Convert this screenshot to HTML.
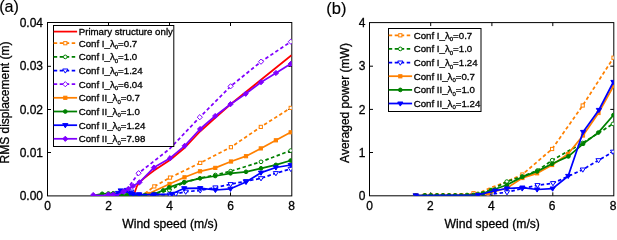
<!DOCTYPE html>
<html><head><meta charset="utf-8"><style>
html,body{margin:0;padding:0;background:#fff;}
svg{display:block;font-family:"Liberation Sans",sans-serif;}
svg{will-change:transform;}
text{stroke:#000;stroke-width:0.3px;}
</style></head><body>
<svg width="617" height="231" viewBox="0 0 617 231">
<defs><clipPath id="cl"><rect x="47.5" y="22.5" width="244.3" height="173.4"/></clipPath>
<clipPath id="cr"><rect x="369.5" y="22.6" width="244.29999999999995" height="173.20000000000002"/></clipPath></defs>
<rect x="47.5" y="22.5" width="244.3" height="173.4" fill="#fff" stroke="none"/>
<rect x="369.5" y="22.6" width="244.29999999999995" height="173.20000000000002" fill="#fff" stroke="none"/>
<rect x="47.5" y="22.5" width="244.3" height="173.4" fill="none" stroke="#000" stroke-width="1"/>
<line x1="108.5" y1="195.9" x2="108.5" y2="192.4" stroke="#000" stroke-width="1"/>
<line x1="108.5" y1="22.5" x2="108.5" y2="26.0" stroke="#000" stroke-width="1"/>
<line x1="169.5" y1="195.9" x2="169.5" y2="192.4" stroke="#000" stroke-width="1"/>
<line x1="169.5" y1="22.5" x2="169.5" y2="26.0" stroke="#000" stroke-width="1"/>
<line x1="230.5" y1="195.9" x2="230.5" y2="192.4" stroke="#000" stroke-width="1"/>
<line x1="230.5" y1="22.5" x2="230.5" y2="26.0" stroke="#000" stroke-width="1"/>
<line x1="47.5" y1="152.5" x2="51.0" y2="152.5" stroke="#000" stroke-width="1"/>
<line x1="291.8" y1="152.5" x2="288.3" y2="152.5" stroke="#000" stroke-width="1"/>
<line x1="47.5" y1="109.5" x2="51.0" y2="109.5" stroke="#000" stroke-width="1"/>
<line x1="291.8" y1="109.5" x2="288.3" y2="109.5" stroke="#000" stroke-width="1"/>
<line x1="47.5" y1="66.3" x2="51.0" y2="66.3" stroke="#000" stroke-width="1"/>
<line x1="291.8" y1="66.3" x2="288.3" y2="66.3" stroke="#000" stroke-width="1"/>
<rect x="369.5" y="22.6" width="244.29999999999995" height="173.20000000000002" fill="none" stroke="#000" stroke-width="1"/>
<line x1="430.7" y1="195.8" x2="430.7" y2="192.3" stroke="#000" stroke-width="1"/>
<line x1="430.7" y1="22.6" x2="430.7" y2="26.1" stroke="#000" stroke-width="1"/>
<line x1="491.9" y1="195.8" x2="491.9" y2="192.3" stroke="#000" stroke-width="1"/>
<line x1="491.9" y1="22.6" x2="491.9" y2="26.1" stroke="#000" stroke-width="1"/>
<line x1="552.8" y1="195.8" x2="552.8" y2="192.3" stroke="#000" stroke-width="1"/>
<line x1="552.8" y1="22.6" x2="552.8" y2="26.1" stroke="#000" stroke-width="1"/>
<line x1="369.5" y1="152.5" x2="373.0" y2="152.5" stroke="#000" stroke-width="1"/>
<line x1="613.8" y1="152.5" x2="610.3" y2="152.5" stroke="#000" stroke-width="1"/>
<line x1="369.5" y1="109.4" x2="373.0" y2="109.4" stroke="#000" stroke-width="1"/>
<line x1="613.8" y1="109.4" x2="610.3" y2="109.4" stroke="#000" stroke-width="1"/>
<line x1="369.5" y1="66.2" x2="373.0" y2="66.2" stroke="#000" stroke-width="1"/>
<line x1="613.8" y1="66.2" x2="610.3" y2="66.2" stroke="#000" stroke-width="1"/>
<g clip-path="url(#cl)">
<polyline points="133.8,195.5 135.2,191.0 137.0,186.0 139.5,182.3 144.0,178.3 149.0,174.4 154.0,170.5 170.0,160.0 185.0,147.5 200.0,131.5 215.0,118.0 230.3,104.5 291.5,55.3" fill="none" stroke="#ff0000" stroke-width="1.75" stroke-linejoin="round"/>
<polyline points="133.0,195.5 139.0,195.0 145.0,193.5 154.3,186.4 170.0,177.6 200.2,162.9 230.9,147.2 260.8,126.9 290.7,107.9" fill="none" stroke="#ff8000" stroke-width="1.75" stroke-dasharray="3.5,2.5" stroke-linejoin="round"/>
<rect x="152.7" y="184.8" width="3.2" height="3.2" fill="#ffffff" stroke="#ff8000" stroke-width="1"/>
<rect x="168.4" y="176.0" width="3.2" height="3.2" fill="#ffffff" stroke="#ff8000" stroke-width="1"/>
<rect x="198.6" y="161.3" width="3.2" height="3.2" fill="#ffffff" stroke="#ff8000" stroke-width="1"/>
<rect x="229.3" y="145.6" width="3.2" height="3.2" fill="#ffffff" stroke="#ff8000" stroke-width="1"/>
<rect x="259.2" y="125.3" width="3.2" height="3.2" fill="#ffffff" stroke="#ff8000" stroke-width="1"/>
<rect x="289.1" y="106.3" width="3.2" height="3.2" fill="#ffffff" stroke="#ff8000" stroke-width="1"/>
<polyline points="139.0,195.5 147.0,195.5 154.0,194.0 169.3,190.2 184.2,182.5 200.2,178.0 215.4,175.0 230.6,171.2 261.0,161.8 290.7,150.6" fill="none" stroke="#008000" stroke-width="1.75" stroke-dasharray="3.5,2.5" stroke-linejoin="round"/>
<circle cx="169.3" cy="190.2" r="1.85" fill="#ffffff" stroke="#008000" stroke-width="1"/>
<circle cx="184.2" cy="182.5" r="1.85" fill="#ffffff" stroke="#008000" stroke-width="1"/>
<circle cx="215.4" cy="175.0" r="1.85" fill="#ffffff" stroke="#008000" stroke-width="1"/>
<circle cx="230.6" cy="171.2" r="1.85" fill="#ffffff" stroke="#008000" stroke-width="1"/>
<circle cx="261.0" cy="161.8" r="1.85" fill="#ffffff" stroke="#008000" stroke-width="1"/>
<circle cx="290.7" cy="150.6" r="1.85" fill="#ffffff" stroke="#008000" stroke-width="1"/>
<polyline points="114.6,195.5 120.7,195.3 126.8,194.0 131.3,191.7 139.0,194.5 154.0,194.5 170.0,194.5 175.8,193.9 185.7,191.7 200.2,190.5 215.4,187.5 230.6,184.2 246.0,181.2 261.0,178.3 275.9,173.2 290.7,168.9" fill="none" stroke="#0000ff" stroke-width="1.75" stroke-dasharray="3.5,2.5" stroke-linejoin="round"/>
<polygon points="112.0,193.9 117.2,193.9 114.6,198.1" fill="#ffffff" stroke="#0000ff" stroke-width="1"/>
<polygon points="118.1,193.7 123.3,193.7 120.7,197.9" fill="#ffffff" stroke="#0000ff" stroke-width="1"/>
<polygon points="124.2,192.4 129.4,192.4 126.8,196.6" fill="#ffffff" stroke="#0000ff" stroke-width="1"/>
<polygon points="128.7,190.1 133.9,190.1 131.3,194.3" fill="#ffffff" stroke="#0000ff" stroke-width="1"/>
<polygon points="136.4,192.9 141.6,192.9 139.0,197.1" fill="#ffffff" stroke="#0000ff" stroke-width="1"/>
<polygon points="151.4,192.9 156.6,192.9 154.0,197.1" fill="#ffffff" stroke="#0000ff" stroke-width="1"/>
<polygon points="167.4,192.9 172.6,192.9 170.0,197.1" fill="#ffffff" stroke="#0000ff" stroke-width="1"/>
<polygon points="173.2,192.3 178.4,192.3 175.8,196.5" fill="#ffffff" stroke="#0000ff" stroke-width="1"/>
<polygon points="183.1,190.1 188.3,190.1 185.7,194.3" fill="#ffffff" stroke="#0000ff" stroke-width="1"/>
<polygon points="197.6,188.9 202.8,188.9 200.2,193.1" fill="#ffffff" stroke="#0000ff" stroke-width="1"/>
<polygon points="212.8,185.9 218.0,185.9 215.4,190.1" fill="#ffffff" stroke="#0000ff" stroke-width="1"/>
<polygon points="228.0,182.6 233.2,182.6 230.6,186.8" fill="#ffffff" stroke="#0000ff" stroke-width="1"/>
<polygon points="243.4,179.6 248.6,179.6 246.0,183.8" fill="#ffffff" stroke="#0000ff" stroke-width="1"/>
<polygon points="258.4,176.7 263.6,176.7 261.0,180.9" fill="#ffffff" stroke="#0000ff" stroke-width="1"/>
<polygon points="273.3,171.6 278.5,171.6 275.9,175.8" fill="#ffffff" stroke="#0000ff" stroke-width="1"/>
<polygon points="288.1,167.3 293.3,167.3 290.7,171.5" fill="#ffffff" stroke="#0000ff" stroke-width="1"/>
<polyline points="116.0,195.5 122.5,193.5 127.8,188.2 138.6,173.2 169.5,149.0 199.8,117.2 230.6,86.3 261.0,61.7 290.8,41.7" fill="none" stroke="#8000ff" stroke-width="1.75" stroke-dasharray="3.5,2.5" stroke-linejoin="round"/>
<polygon points="138.6,170.6 141.2,173.2 138.6,175.8 136.0,173.2" fill="#ffffff" stroke="#8000ff" stroke-width="1"/>
<polygon points="199.8,114.6 202.4,117.2 199.8,119.8 197.2,117.2" fill="#ffffff" stroke="#8000ff" stroke-width="1"/>
<polygon points="230.6,83.7 233.2,86.3 230.6,88.9 228.0,86.3" fill="#ffffff" stroke="#8000ff" stroke-width="1"/>
<polygon points="261.0,59.1 263.6,61.7 261.0,64.3 258.4,61.7" fill="#ffffff" stroke="#8000ff" stroke-width="1"/>
<polygon points="290.8,39.1 293.4,41.7 290.8,44.3 288.2,41.7" fill="#ffffff" stroke="#8000ff" stroke-width="1"/>
<polyline points="133.0,195.5 139.0,195.5 147.9,194.0 169.5,184.0 184.5,177.3 200.0,171.3 215.3,167.9 231.0,161.5 246.0,156.2 260.8,148.4 275.9,140.3 290.7,132.3" fill="none" stroke="#ff8000" stroke-width="1.75" stroke-linejoin="round"/>
<rect x="146.3" y="192.4" width="3.2" height="3.2" fill="#ff8000" stroke="#ff8000" stroke-width="1"/>
<rect x="167.9" y="182.4" width="3.2" height="3.2" fill="#ff8000" stroke="#ff8000" stroke-width="1"/>
<rect x="182.9" y="175.7" width="3.2" height="3.2" fill="#ff8000" stroke="#ff8000" stroke-width="1"/>
<rect x="198.4" y="169.7" width="3.2" height="3.2" fill="#ff8000" stroke="#ff8000" stroke-width="1"/>
<rect x="213.7" y="166.3" width="3.2" height="3.2" fill="#ff8000" stroke="#ff8000" stroke-width="1"/>
<rect x="229.4" y="159.9" width="3.2" height="3.2" fill="#ff8000" stroke="#ff8000" stroke-width="1"/>
<rect x="244.4" y="154.6" width="3.2" height="3.2" fill="#ff8000" stroke="#ff8000" stroke-width="1"/>
<rect x="259.2" y="146.8" width="3.2" height="3.2" fill="#ff8000" stroke="#ff8000" stroke-width="1"/>
<rect x="274.3" y="138.7" width="3.2" height="3.2" fill="#ff8000" stroke="#ff8000" stroke-width="1"/>
<rect x="289.1" y="130.7" width="3.2" height="3.2" fill="#ff8000" stroke="#ff8000" stroke-width="1"/>
<polyline points="93.2,195.5 102.2,193.8 108.4,193.5 113.3,193.3 120.7,195.0 126.8,195.2 133.0,195.2 139.0,195.2 145.0,195.0 154.0,194.0 163.3,190.4 169.3,187.4 184.2,182.2 200.0,178.3 215.2,176.0 230.5,173.3 246.0,171.8 261.0,168.3 275.9,164.9 290.7,160.5" fill="none" stroke="#008000" stroke-width="1.75" stroke-linejoin="round"/>
<circle cx="102.2" cy="193.8" r="1.85" fill="#008000" stroke="#008000" stroke-width="1"/>
<circle cx="108.4" cy="193.5" r="1.85" fill="#008000" stroke="#008000" stroke-width="1"/>
<circle cx="113.3" cy="193.3" r="1.85" fill="#008000" stroke="#008000" stroke-width="1"/>
<circle cx="120.7" cy="195.0" r="1.85" fill="#008000" stroke="#008000" stroke-width="1"/>
<circle cx="126.8" cy="195.2" r="1.85" fill="#008000" stroke="#008000" stroke-width="1"/>
<circle cx="133.0" cy="195.2" r="1.85" fill="#008000" stroke="#008000" stroke-width="1"/>
<circle cx="139.0" cy="195.2" r="1.85" fill="#008000" stroke="#008000" stroke-width="1"/>
<circle cx="145.0" cy="195.0" r="1.85" fill="#008000" stroke="#008000" stroke-width="1"/>
<circle cx="154.0" cy="194.0" r="1.85" fill="#008000" stroke="#008000" stroke-width="1"/>
<circle cx="163.3" cy="190.4" r="1.85" fill="#008000" stroke="#008000" stroke-width="1"/>
<circle cx="169.3" cy="187.4" r="1.85" fill="#008000" stroke="#008000" stroke-width="1"/>
<circle cx="184.2" cy="182.2" r="1.85" fill="#008000" stroke="#008000" stroke-width="1"/>
<circle cx="200.0" cy="178.3" r="1.85" fill="#008000" stroke="#008000" stroke-width="1"/>
<circle cx="215.2" cy="176.0" r="1.85" fill="#008000" stroke="#008000" stroke-width="1"/>
<circle cx="230.5" cy="173.3" r="1.85" fill="#008000" stroke="#008000" stroke-width="1"/>
<circle cx="246.0" cy="171.8" r="1.85" fill="#008000" stroke="#008000" stroke-width="1"/>
<circle cx="261.0" cy="168.3" r="1.85" fill="#008000" stroke="#008000" stroke-width="1"/>
<circle cx="275.9" cy="164.9" r="1.85" fill="#008000" stroke="#008000" stroke-width="1"/>
<circle cx="290.7" cy="160.5" r="1.85" fill="#008000" stroke="#008000" stroke-width="1"/>
<polyline points="114.6,195.5 118.0,193.0 120.7,190.5 126.8,190.0 130.0,193.0 133.0,194.5 139.0,194.5 154.0,194.5 171.8,194.0 184.2,188.3 200.2,188.2 215.4,190.0 230.5,188.8 246.0,182.0 261.0,172.7 275.9,167.5 290.7,165.0" fill="none" stroke="#0000ff" stroke-width="1.75" stroke-linejoin="round"/>
<polygon points="112.0,193.9 117.2,193.9 114.6,198.1" fill="#0000ff" stroke="#0000ff" stroke-width="1"/>
<polygon points="115.4,191.4 120.6,191.4 118.0,195.6" fill="#0000ff" stroke="#0000ff" stroke-width="1"/>
<polygon points="118.1,188.9 123.3,188.9 120.7,193.1" fill="#0000ff" stroke="#0000ff" stroke-width="1"/>
<polygon points="124.2,188.4 129.4,188.4 126.8,192.6" fill="#0000ff" stroke="#0000ff" stroke-width="1"/>
<polygon points="127.4,191.4 132.6,191.4 130.0,195.6" fill="#0000ff" stroke="#0000ff" stroke-width="1"/>
<polygon points="130.4,192.9 135.6,192.9 133.0,197.1" fill="#0000ff" stroke="#0000ff" stroke-width="1"/>
<polygon points="136.4,192.9 141.6,192.9 139.0,197.1" fill="#0000ff" stroke="#0000ff" stroke-width="1"/>
<polygon points="151.4,192.9 156.6,192.9 154.0,197.1" fill="#0000ff" stroke="#0000ff" stroke-width="1"/>
<polygon points="169.2,192.4 174.4,192.4 171.8,196.6" fill="#0000ff" stroke="#0000ff" stroke-width="1"/>
<polygon points="181.6,186.7 186.8,186.7 184.2,190.9" fill="#0000ff" stroke="#0000ff" stroke-width="1"/>
<polygon points="197.6,186.6 202.8,186.6 200.2,190.8" fill="#0000ff" stroke="#0000ff" stroke-width="1"/>
<polygon points="212.8,188.4 218.0,188.4 215.4,192.6" fill="#0000ff" stroke="#0000ff" stroke-width="1"/>
<polygon points="227.9,187.2 233.1,187.2 230.5,191.4" fill="#0000ff" stroke="#0000ff" stroke-width="1"/>
<polygon points="243.4,180.4 248.6,180.4 246.0,184.6" fill="#0000ff" stroke="#0000ff" stroke-width="1"/>
<polygon points="258.4,171.1 263.6,171.1 261.0,175.3" fill="#0000ff" stroke="#0000ff" stroke-width="1"/>
<polygon points="273.3,165.9 278.5,165.9 275.9,170.1" fill="#0000ff" stroke="#0000ff" stroke-width="1"/>
<polygon points="288.1,163.4 293.3,163.4 290.7,167.6" fill="#0000ff" stroke="#0000ff" stroke-width="1"/>
<polyline points="93.2,195.0 102.4,195.5 108.4,194.5 113.3,194.5 118.0,195.0 123.5,191.5 128.5,188.8 133.0,186.0 139.5,182.3 153.9,167.6 170.0,158.2 184.7,145.8 200.1,129.0 215.2,116.0 230.5,104.2 245.7,93.8 261.0,82.2 276.0,73.0 290.8,63.8" fill="none" stroke="#8000ff" stroke-width="1.75" stroke-linejoin="round"/>
<polygon points="93.2,192.4 95.8,195.0 93.2,197.6 90.7,195.0" fill="#8000ff" stroke="#8000ff" stroke-width="1"/>
<polygon points="108.4,191.9 111.0,194.5 108.4,197.1 105.8,194.5" fill="#8000ff" stroke="#8000ff" stroke-width="1"/>
<polygon points="113.3,191.9 115.9,194.5 113.3,197.1 110.7,194.5" fill="#8000ff" stroke="#8000ff" stroke-width="1"/>
<polygon points="123.5,188.9 126.1,191.5 123.5,194.1 120.9,191.5" fill="#8000ff" stroke="#8000ff" stroke-width="1"/>
<polygon points="128.5,186.2 131.1,188.8 128.5,191.4 125.9,188.8" fill="#8000ff" stroke="#8000ff" stroke-width="1"/>
<polygon points="133.0,183.4 135.6,186.0 133.0,188.6 130.4,186.0" fill="#8000ff" stroke="#8000ff" stroke-width="1"/>
<polygon points="139.5,179.7 142.1,182.3 139.5,184.9 136.9,182.3" fill="#8000ff" stroke="#8000ff" stroke-width="1"/>
<polygon points="153.9,165.0 156.5,167.6 153.9,170.2 151.3,167.6" fill="#8000ff" stroke="#8000ff" stroke-width="1"/>
<polygon points="170.0,155.6 172.6,158.2 170.0,160.8 167.4,158.2" fill="#8000ff" stroke="#8000ff" stroke-width="1"/>
<polygon points="184.7,143.2 187.3,145.8 184.7,148.4 182.1,145.8" fill="#8000ff" stroke="#8000ff" stroke-width="1"/>
<polygon points="200.1,126.4 202.7,129.0 200.1,131.6 197.5,129.0" fill="#8000ff" stroke="#8000ff" stroke-width="1"/>
<polygon points="215.2,113.4 217.8,116.0 215.2,118.6 212.6,116.0" fill="#8000ff" stroke="#8000ff" stroke-width="1"/>
<polygon points="230.5,101.6 233.1,104.2 230.5,106.8 227.9,104.2" fill="#8000ff" stroke="#8000ff" stroke-width="1"/>
<polygon points="245.7,91.2 248.3,93.8 245.7,96.4 243.1,93.8" fill="#8000ff" stroke="#8000ff" stroke-width="1"/>
<polygon points="261.0,79.6 263.6,82.2 261.0,84.8 258.4,82.2" fill="#8000ff" stroke="#8000ff" stroke-width="1"/>
<polygon points="276.0,70.4 278.6,73.0 276.0,75.6 273.4,73.0" fill="#8000ff" stroke="#8000ff" stroke-width="1"/>
<polygon points="290.8,61.2 293.4,63.8 290.8,66.4 288.2,63.8" fill="#8000ff" stroke="#8000ff" stroke-width="1"/>
</g>
<g clip-path="url(#cr)">
<polyline points="415.7,195.5 424.8,195.5 430.9,195.5 437.0,195.5 443.0,195.5 449.1,195.5 455.2,195.5 461.3,195.5 467.4,195.3 473.5,193.2 481.0,192.2 491.0,187.5 500.7,184.2 507.0,181.5 522.4,174.5 552.1,149.0 582.7,105.5 613.5,57.7" fill="none" stroke="#ff8000" stroke-width="1.75" stroke-dasharray="3.5,2.5" stroke-linejoin="round"/>
<rect x="414.1" y="193.9" width="3.2" height="3.2" fill="#ffffff" stroke="#ff8000" stroke-width="1"/>
<rect x="423.2" y="193.9" width="3.2" height="3.2" fill="#ffffff" stroke="#ff8000" stroke-width="1"/>
<rect x="429.3" y="193.9" width="3.2" height="3.2" fill="#ffffff" stroke="#ff8000" stroke-width="1"/>
<rect x="435.4" y="193.9" width="3.2" height="3.2" fill="#ffffff" stroke="#ff8000" stroke-width="1"/>
<rect x="441.4" y="193.9" width="3.2" height="3.2" fill="#ffffff" stroke="#ff8000" stroke-width="1"/>
<rect x="447.5" y="193.9" width="3.2" height="3.2" fill="#ffffff" stroke="#ff8000" stroke-width="1"/>
<rect x="453.6" y="193.9" width="3.2" height="3.2" fill="#ffffff" stroke="#ff8000" stroke-width="1"/>
<rect x="459.7" y="193.9" width="3.2" height="3.2" fill="#ffffff" stroke="#ff8000" stroke-width="1"/>
<rect x="465.8" y="193.7" width="3.2" height="3.2" fill="#ffffff" stroke="#ff8000" stroke-width="1"/>
<rect x="471.9" y="191.6" width="3.2" height="3.2" fill="#ffffff" stroke="#ff8000" stroke-width="1"/>
<rect x="520.8" y="172.9" width="3.2" height="3.2" fill="#ffffff" stroke="#ff8000" stroke-width="1"/>
<rect x="550.5" y="147.4" width="3.2" height="3.2" fill="#ffffff" stroke="#ff8000" stroke-width="1"/>
<rect x="581.1" y="103.9" width="3.2" height="3.2" fill="#ffffff" stroke="#ff8000" stroke-width="1"/>
<rect x="611.9" y="56.1" width="3.2" height="3.2" fill="#ffffff" stroke="#ff8000" stroke-width="1"/>
<polyline points="415.7,195.5 424.8,195.5 430.9,195.5 437.0,195.5 443.0,195.5 449.1,195.5 455.2,195.5 461.3,195.5 467.0,195.0 478.0,194.0 491.0,190.0 506.8,181.6 522.2,176.5 537.5,170.5 552.2,160.2 582.7,143.0 613.0,123.9" fill="none" stroke="#008000" stroke-width="1.75" stroke-dasharray="3.5,2.5" stroke-linejoin="round"/>
<circle cx="415.7" cy="195.5" r="1.85" fill="#ffffff" stroke="#008000" stroke-width="1"/>
<circle cx="424.8" cy="195.5" r="1.85" fill="#ffffff" stroke="#008000" stroke-width="1"/>
<circle cx="430.9" cy="195.5" r="1.85" fill="#ffffff" stroke="#008000" stroke-width="1"/>
<circle cx="437.0" cy="195.5" r="1.85" fill="#ffffff" stroke="#008000" stroke-width="1"/>
<circle cx="443.0" cy="195.5" r="1.85" fill="#ffffff" stroke="#008000" stroke-width="1"/>
<circle cx="449.1" cy="195.5" r="1.85" fill="#ffffff" stroke="#008000" stroke-width="1"/>
<circle cx="455.2" cy="195.5" r="1.85" fill="#ffffff" stroke="#008000" stroke-width="1"/>
<circle cx="461.3" cy="195.5" r="1.85" fill="#ffffff" stroke="#008000" stroke-width="1"/>
<circle cx="467.0" cy="195.0" r="1.85" fill="#ffffff" stroke="#008000" stroke-width="1"/>
<circle cx="478.0" cy="194.0" r="1.85" fill="#ffffff" stroke="#008000" stroke-width="1"/>
<circle cx="491.0" cy="190.0" r="1.85" fill="#ffffff" stroke="#008000" stroke-width="1"/>
<circle cx="506.8" cy="181.6" r="1.85" fill="#ffffff" stroke="#008000" stroke-width="1"/>
<circle cx="522.2" cy="176.5" r="1.85" fill="#ffffff" stroke="#008000" stroke-width="1"/>
<circle cx="537.5" cy="170.5" r="1.85" fill="#ffffff" stroke="#008000" stroke-width="1"/>
<circle cx="552.2" cy="160.2" r="1.85" fill="#ffffff" stroke="#008000" stroke-width="1"/>
<circle cx="582.7" cy="143.0" r="1.85" fill="#ffffff" stroke="#008000" stroke-width="1"/>
<circle cx="613.0" cy="123.9" r="1.85" fill="#ffffff" stroke="#008000" stroke-width="1"/>
<polyline points="415.7,195.5 473.5,195.5 488.0,194.5 507.0,192.3 522.2,188.5 537.5,185.2 553.0,183.2 582.8,169.6 598.5,160.3 613.0,151.8" fill="none" stroke="#0000ff" stroke-width="1.75" stroke-dasharray="3.5,2.5" stroke-linejoin="round"/>
<polygon points="413.1,193.9 418.3,193.9 415.7,198.1" fill="#ffffff" stroke="#0000ff" stroke-width="1"/>
<polygon points="470.9,193.9 476.1,193.9 473.5,198.1" fill="#ffffff" stroke="#0000ff" stroke-width="1"/>
<polygon points="485.4,192.9 490.6,192.9 488.0,197.1" fill="#ffffff" stroke="#0000ff" stroke-width="1"/>
<polygon points="504.4,190.7 509.6,190.7 507.0,194.9" fill="#ffffff" stroke="#0000ff" stroke-width="1"/>
<polygon points="519.6,186.9 524.8,186.9 522.2,191.1" fill="#ffffff" stroke="#0000ff" stroke-width="1"/>
<polygon points="534.9,183.6 540.1,183.6 537.5,187.8" fill="#ffffff" stroke="#0000ff" stroke-width="1"/>
<polygon points="550.4,181.6 555.6,181.6 553.0,185.8" fill="#ffffff" stroke="#0000ff" stroke-width="1"/>
<polygon points="580.2,168.0 585.4,168.0 582.8,172.2" fill="#ffffff" stroke="#0000ff" stroke-width="1"/>
<polygon points="595.9,158.7 601.1,158.7 598.5,162.9" fill="#ffffff" stroke="#0000ff" stroke-width="1"/>
<polygon points="610.4,150.2 615.6,150.2 613.0,154.4" fill="#ffffff" stroke="#0000ff" stroke-width="1"/>
<polyline points="415.7,195.5 461.3,195.5 473.5,195.3 488.0,193.5 507.0,188.0 522.4,178.0 537.1,173.3 552.1,165.0 568.0,154.0 583.0,135.5 598.5,113.0 613.5,86.0" fill="none" stroke="#ff8000" stroke-width="1.75" stroke-linejoin="round"/>
<rect x="414.1" y="193.9" width="3.2" height="3.2" fill="#ff8000" stroke="#ff8000" stroke-width="1"/>
<rect x="459.7" y="193.9" width="3.2" height="3.2" fill="#ff8000" stroke="#ff8000" stroke-width="1"/>
<rect x="471.9" y="193.7" width="3.2" height="3.2" fill="#ff8000" stroke="#ff8000" stroke-width="1"/>
<rect x="486.4" y="191.9" width="3.2" height="3.2" fill="#ff8000" stroke="#ff8000" stroke-width="1"/>
<rect x="505.4" y="186.4" width="3.2" height="3.2" fill="#ff8000" stroke="#ff8000" stroke-width="1"/>
<rect x="520.8" y="176.4" width="3.2" height="3.2" fill="#ff8000" stroke="#ff8000" stroke-width="1"/>
<rect x="535.5" y="171.7" width="3.2" height="3.2" fill="#ff8000" stroke="#ff8000" stroke-width="1"/>
<rect x="550.5" y="163.4" width="3.2" height="3.2" fill="#ff8000" stroke="#ff8000" stroke-width="1"/>
<rect x="566.4" y="152.4" width="3.2" height="3.2" fill="#ff8000" stroke="#ff8000" stroke-width="1"/>
<rect x="581.4" y="133.9" width="3.2" height="3.2" fill="#ff8000" stroke="#ff8000" stroke-width="1"/>
<rect x="596.9" y="111.4" width="3.2" height="3.2" fill="#ff8000" stroke="#ff8000" stroke-width="1"/>
<rect x="611.9" y="84.4" width="3.2" height="3.2" fill="#ff8000" stroke="#ff8000" stroke-width="1"/>
<polyline points="415.7,195.5 424.8,195.5 430.9,195.5 437.0,195.5 443.0,195.5 449.1,195.5 455.2,195.5 461.3,195.5 467.4,195.5 473.5,195.0 482.6,193.5 491.0,190.5 506.8,185.0 522.4,176.9 537.1,171.4 552.1,163.8 568.4,156.4 583.1,143.8 598.3,132.6 613.5,115.0" fill="none" stroke="#008000" stroke-width="1.75" stroke-linejoin="round"/>
<circle cx="415.7" cy="195.5" r="1.85" fill="#008000" stroke="#008000" stroke-width="1"/>
<circle cx="424.8" cy="195.5" r="1.85" fill="#008000" stroke="#008000" stroke-width="1"/>
<circle cx="430.9" cy="195.5" r="1.85" fill="#008000" stroke="#008000" stroke-width="1"/>
<circle cx="437.0" cy="195.5" r="1.85" fill="#008000" stroke="#008000" stroke-width="1"/>
<circle cx="443.0" cy="195.5" r="1.85" fill="#008000" stroke="#008000" stroke-width="1"/>
<circle cx="449.1" cy="195.5" r="1.85" fill="#008000" stroke="#008000" stroke-width="1"/>
<circle cx="455.2" cy="195.5" r="1.85" fill="#008000" stroke="#008000" stroke-width="1"/>
<circle cx="461.3" cy="195.5" r="1.85" fill="#008000" stroke="#008000" stroke-width="1"/>
<circle cx="467.4" cy="195.5" r="1.85" fill="#008000" stroke="#008000" stroke-width="1"/>
<circle cx="473.5" cy="195.0" r="1.85" fill="#008000" stroke="#008000" stroke-width="1"/>
<circle cx="482.6" cy="193.5" r="1.85" fill="#008000" stroke="#008000" stroke-width="1"/>
<circle cx="491.0" cy="190.5" r="1.85" fill="#008000" stroke="#008000" stroke-width="1"/>
<circle cx="506.8" cy="185.0" r="1.85" fill="#008000" stroke="#008000" stroke-width="1"/>
<circle cx="522.4" cy="176.9" r="1.85" fill="#008000" stroke="#008000" stroke-width="1"/>
<circle cx="537.1" cy="171.4" r="1.85" fill="#008000" stroke="#008000" stroke-width="1"/>
<circle cx="552.1" cy="163.8" r="1.85" fill="#008000" stroke="#008000" stroke-width="1"/>
<circle cx="568.4" cy="156.4" r="1.85" fill="#008000" stroke="#008000" stroke-width="1"/>
<circle cx="583.1" cy="143.8" r="1.85" fill="#008000" stroke="#008000" stroke-width="1"/>
<circle cx="598.3" cy="132.6" r="1.85" fill="#008000" stroke="#008000" stroke-width="1"/>
<circle cx="613.5" cy="115.0" r="1.85" fill="#008000" stroke="#008000" stroke-width="1"/>
<polyline points="415.7,195.5 478.0,195.0 495.0,190.7 507.0,188.5 522.4,187.6 537.1,189.5 552.6,188.6 568.2,176.0 583.1,132.0 598.9,110.0 613.4,82.0" fill="none" stroke="#0000ff" stroke-width="1.75" stroke-linejoin="round"/>
<polygon points="413.1,193.9 418.3,193.9 415.7,198.1" fill="#0000ff" stroke="#0000ff" stroke-width="1"/>
<polygon points="475.4,193.4 480.6,193.4 478.0,197.6" fill="#0000ff" stroke="#0000ff" stroke-width="1"/>
<polygon points="492.4,189.1 497.6,189.1 495.0,193.3" fill="#0000ff" stroke="#0000ff" stroke-width="1"/>
<polygon points="504.4,186.9 509.6,186.9 507.0,191.1" fill="#0000ff" stroke="#0000ff" stroke-width="1"/>
<polygon points="519.8,186.0 525.0,186.0 522.4,190.2" fill="#0000ff" stroke="#0000ff" stroke-width="1"/>
<polygon points="534.5,187.9 539.7,187.9 537.1,192.1" fill="#0000ff" stroke="#0000ff" stroke-width="1"/>
<polygon points="550.0,187.0 555.2,187.0 552.6,191.2" fill="#0000ff" stroke="#0000ff" stroke-width="1"/>
<polygon points="565.6,174.4 570.8,174.4 568.2,178.6" fill="#0000ff" stroke="#0000ff" stroke-width="1"/>
<polygon points="580.5,130.4 585.7,130.4 583.1,134.6" fill="#0000ff" stroke="#0000ff" stroke-width="1"/>
<polygon points="596.3,108.4 601.5,108.4 598.9,112.6" fill="#0000ff" stroke="#0000ff" stroke-width="1"/>
<polygon points="610.8,80.4 616.0,80.4 613.4,84.6" fill="#0000ff" stroke="#0000ff" stroke-width="1"/>
</g>
<rect x="53.5" y="25.5" width="120.30000000000001" height="121.0" fill="#fff" stroke="#000" stroke-width="1"/>
<line x1="53.7" y1="31.6" x2="77.1" y2="31.6" stroke="#ff0000" stroke-width="1.75"/>
<text x="78.7" y="34.9" font-size="9.7">Primary structure only</text>
<line x1="53.7" y1="43.2" x2="77.1" y2="43.2" stroke="#ff8000" stroke-width="1.75" stroke-dasharray="3.5,2.5"/>
<rect x="63.7" y="41.6" width="3.2" height="3.2" fill="#ffffff" stroke="#ff8000" stroke-width="1"/>
<text x="78.7" y="46.5" font-size="9.7">Conf I_λ<tspan font-size="6" dy="2.6">0</tspan><tspan dy="-2.6">=0.7</tspan></text>
<line x1="53.7" y1="56.9" x2="77.1" y2="56.9" stroke="#008000" stroke-width="1.75" stroke-dasharray="3.5,2.5"/>
<circle cx="65.3" cy="56.9" r="1.85" fill="#ffffff" stroke="#008000" stroke-width="1"/>
<text x="78.7" y="60.2" font-size="9.7">Conf I_λ<tspan font-size="6" dy="2.6">0</tspan><tspan dy="-2.6">=1.0</tspan></text>
<line x1="53.7" y1="70.5" x2="77.1" y2="70.5" stroke="#0000ff" stroke-width="1.75" stroke-dasharray="3.5,2.5"/>
<polygon points="62.7,69.0 67.9,69.0 65.3,73.1" fill="#ffffff" stroke="#0000ff" stroke-width="1"/>
<text x="78.7" y="73.8" font-size="9.7">Conf I_λ<tspan font-size="6" dy="2.6">0</tspan><tspan dy="-2.6">=1.24</tspan></text>
<line x1="53.7" y1="84.2" x2="77.1" y2="84.2" stroke="#8000ff" stroke-width="1.75" stroke-dasharray="3.5,2.5"/>
<polygon points="65.3,81.6 67.9,84.2 65.3,86.8 62.7,84.2" fill="#ffffff" stroke="#8000ff" stroke-width="1"/>
<text x="78.7" y="87.5" font-size="9.7">Conf I_λ<tspan font-size="6" dy="2.6">0</tspan><tspan dy="-2.6">=6.04</tspan></text>
<line x1="53.7" y1="97.8" x2="77.1" y2="97.8" stroke="#ff8000" stroke-width="1.75"/>
<rect x="63.7" y="96.2" width="3.2" height="3.2" fill="#ff8000" stroke="#ff8000" stroke-width="1"/>
<text x="78.7" y="101.1" font-size="9.7">Conf II_λ<tspan font-size="6" dy="2.6">0</tspan><tspan dy="-2.6">=0.7</tspan></text>
<line x1="53.7" y1="111.5" x2="77.1" y2="111.5" stroke="#008000" stroke-width="1.75"/>
<circle cx="65.3" cy="111.5" r="1.85" fill="#008000" stroke="#008000" stroke-width="1"/>
<text x="78.7" y="114.8" font-size="9.7">Conf II_λ<tspan font-size="6" dy="2.6">0</tspan><tspan dy="-2.6">=1.0</tspan></text>
<line x1="53.7" y1="125.2" x2="77.1" y2="125.2" stroke="#0000ff" stroke-width="1.75"/>
<polygon points="62.7,123.6 67.9,123.6 65.3,127.8" fill="#0000ff" stroke="#0000ff" stroke-width="1"/>
<text x="78.7" y="128.5" font-size="9.7">Conf II_λ<tspan font-size="6" dy="2.6">0</tspan><tspan dy="-2.6">=1.24</tspan></text>
<line x1="53.7" y1="138.8" x2="77.1" y2="138.8" stroke="#8000ff" stroke-width="1.75"/>
<polygon points="65.3,136.2 67.9,138.8 65.3,141.4 62.7,138.8" fill="#8000ff" stroke="#8000ff" stroke-width="1"/>
<text x="78.7" y="142.1" font-size="9.7">Conf II_λ<tspan font-size="6" dy="2.6">0</tspan><tspan dy="-2.6">=7.98</tspan></text>
<rect x="388.5" y="28.5" width="92.5" height="83.0" fill="#fff" stroke="#000" stroke-width="1"/>
<line x1="388.7" y1="35.3" x2="412.1" y2="35.3" stroke="#ff8000" stroke-width="1.75" stroke-dasharray="3.5,2.5"/>
<rect x="398.7" y="33.7" width="3.2" height="3.2" fill="#ffffff" stroke="#ff8000" stroke-width="1"/>
<text x="413.7" y="38.6" font-size="9.7">Conf I_λ<tspan font-size="6" dy="2.6">0</tspan><tspan dy="-2.6">=0.7</tspan></text>
<line x1="388.7" y1="48.9" x2="412.1" y2="48.9" stroke="#008000" stroke-width="1.75" stroke-dasharray="3.5,2.5"/>
<circle cx="400.3" cy="48.9" r="1.85" fill="#ffffff" stroke="#008000" stroke-width="1"/>
<text x="413.7" y="52.2" font-size="9.7">Conf I_λ<tspan font-size="6" dy="2.6">0</tspan><tspan dy="-2.6">=1.0</tspan></text>
<line x1="388.7" y1="62.6" x2="412.1" y2="62.6" stroke="#0000ff" stroke-width="1.75" stroke-dasharray="3.5,2.5"/>
<polygon points="397.7,61.0 402.9,61.0 400.3,65.2" fill="#ffffff" stroke="#0000ff" stroke-width="1"/>
<text x="413.7" y="65.9" font-size="9.7">Conf I_λ<tspan font-size="6" dy="2.6">0</tspan><tspan dy="-2.6">=1.24</tspan></text>
<line x1="388.7" y1="76.2" x2="412.1" y2="76.2" stroke="#ff8000" stroke-width="1.75"/>
<rect x="398.7" y="74.7" width="3.2" height="3.2" fill="#ff8000" stroke="#ff8000" stroke-width="1"/>
<text x="413.7" y="79.5" font-size="9.7">Conf II_λ<tspan font-size="6" dy="2.6">0</tspan><tspan dy="-2.6">=0.7</tspan></text>
<line x1="388.7" y1="89.9" x2="412.1" y2="89.9" stroke="#008000" stroke-width="1.75"/>
<circle cx="400.3" cy="89.9" r="1.85" fill="#008000" stroke="#008000" stroke-width="1"/>
<text x="413.7" y="93.2" font-size="9.7">Conf II_λ<tspan font-size="6" dy="2.6">0</tspan><tspan dy="-2.6">=1.0</tspan></text>
<line x1="388.7" y1="103.5" x2="412.1" y2="103.5" stroke="#0000ff" stroke-width="1.75"/>
<polygon points="397.7,102.0 402.9,102.0 400.3,106.1" fill="#0000ff" stroke="#0000ff" stroke-width="1"/>
<text x="413.7" y="106.8" font-size="9.7">Conf II_λ<tspan font-size="6" dy="2.6">0</tspan><tspan dy="-2.6">=1.24</tspan></text>
<text x="43" y="200.1" font-size="12" text-anchor="end">0.00</text>
<text x="43" y="156.85" font-size="12" text-anchor="end">0.01</text>
<text x="43" y="113.60000000000001" font-size="12" text-anchor="end">0.02</text>
<text x="43" y="70.35000000000001" font-size="12" text-anchor="end">0.03</text>
<text x="43" y="27.100000000000005" font-size="12" text-anchor="end">0.04</text>
<text x="47.5" y="210" font-size="12" text-anchor="middle">0</text>
<text x="108.5" y="210" font-size="12" text-anchor="middle">2</text>
<text x="169.5" y="210" font-size="12" text-anchor="middle">4</text>
<text x="230.5" y="210" font-size="12" text-anchor="middle">6</text>
<text x="291.5" y="210" font-size="12" text-anchor="middle">8</text>
<text x="365.5" y="200.0" font-size="12" text-anchor="end">0</text>
<text x="365.5" y="156.75" font-size="12" text-anchor="end">1</text>
<text x="365.5" y="113.50000000000001" font-size="12" text-anchor="end">2</text>
<text x="365.5" y="70.25000000000001" font-size="12" text-anchor="end">3</text>
<text x="365.5" y="27.00000000000001" font-size="12" text-anchor="end">4</text>
<text x="369.5" y="210" font-size="12" text-anchor="middle">0</text>
<text x="430.38" y="210" font-size="12" text-anchor="middle">2</text>
<text x="491.26" y="210" font-size="12" text-anchor="middle">4</text>
<text x="552.14" y="210" font-size="12" text-anchor="middle">6</text>
<text x="613.02" y="210" font-size="12" text-anchor="middle">8</text>
<text x="170.0" y="228.3" font-size="12.2" text-anchor="middle">Wind speed (m/s)</text>
<text x="492.2" y="228.3" font-size="12.2" text-anchor="middle">Wind speed (m/s)</text>
<text x="0" y="0" font-size="12" text-anchor="middle" transform="translate(9.4,102.5) rotate(-90)">RMS displacement (m)</text>
<text x="0" y="0" font-size="12" text-anchor="middle" transform="translate(349,103) rotate(-90)">Averaged power (mW)</text>
<text x="-0.8" y="11.6" font-size="16.2" text-anchor="start" style="stroke-width:0.15px">(a)</text>
<text x="326.3" y="13.7" font-size="16.5" text-anchor="start" style="stroke-width:0.15px">(b)</text>
</svg>
</body></html>
